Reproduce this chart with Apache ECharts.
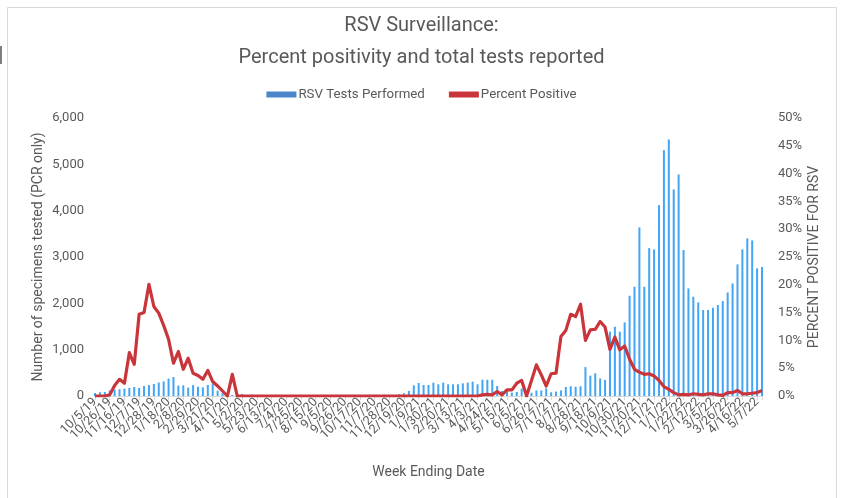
<!DOCTYPE html>
<html>
<head>
<meta charset="utf-8">
<script src="https://cdn.jsdelivr.net/npm/echarts@6/dist/echarts.min.js"></script>
<style>
html,body{margin:0;padding:0;background:#fff;}
#chart{width:843px;height:498px;}
</style>
</head>
<body>
<div id="chart"></div>
<script>
const weeks = [
 '10/5/19','10/12/19','10/19/19','10/26/19','11/2/19','11/9/19','11/16/19','11/23/19','11/30/19','12/7/19','12/14/19','12/21/19','12/28/19',
 '1/4/20','1/11/20','1/18/20','1/25/20','2/1/20','2/8/20','2/15/20','2/22/20','2/29/20','3/7/20','3/14/20','3/21/20','3/28/20','4/4/20','4/11/20','4/18/20','4/25/20','5/2/20','5/9/20','5/16/20','5/23/20','5/30/20','6/6/20','6/13/20','6/20/20','6/27/20','7/4/20','7/11/20','7/18/20','7/25/20','8/1/20','8/8/20','8/15/20','8/22/20','8/29/20','9/5/20','9/12/20','9/19/20','9/26/20','10/3/20','10/10/20','10/17/20','10/24/20','10/31/20','11/7/20','11/14/20','11/21/20','11/28/20','12/5/20','12/12/20','12/19/20','12/26/20',
 '1/2/21','1/9/21','1/16/21','1/23/21','1/30/21','2/6/21','2/13/21','2/20/21','2/27/21','3/6/21','3/13/21','3/20/21','3/27/21','4/3/21','4/10/21','4/17/21','4/24/21','5/1/21','5/8/21','5/15/21','5/22/21','5/29/21','6/5/21','6/12/21','6/19/21','6/26/21','7/3/21','7/10/21','7/17/21','7/24/21','7/31/21','8/7/21','8/14/21','8/21/21','8/28/21','9/4/21','9/11/21','9/18/21','9/25/21','10/2/21','10/9/21','10/16/21','10/23/21','10/30/21','11/6/21','11/13/21','11/20/21','11/27/21','12/4/21','12/11/21','12/18/21','12/25/21',
 '1/1/22','1/8/22','1/15/22','1/22/22','1/29/22','2/5/22','2/12/22','2/19/22','2/26/22','3/5/22','3/12/22','3/19/22','3/26/22','4/2/22','4/9/22','4/16/22','4/23/22','4/30/22','5/7/22','5/14/22'
];

const testsPerformed = [
 65,80,86,120,135,145,160,175,195,175,215,235,260,290,315,375,410,225,230,180,
 235,200,185,237,272,115,58,25,22,0,43,0,25,0,0,0,0,0,0,0,
 0,0,0,0,0,0,0,0,0,0,0,0,25,25,20,0,25,25,0,30,
 0,0,36,58,110,230,280,237,237,288,252,288,252,252,252,273,288,309,252,352,
 352,352,216,108,108,72,86,160,40,70,120,120,165,80,95,120,195,210,198,210,
 625,440,490,380,345,1388,1496,1388,1589,2164,2358,3638,2358,3192,3164,4120,5306,5536,4458,4781,
 3149,2322,2143,2020,1855,1855,1905,1963,2049,2236,2430,2840,3164,3401,3358,2754,2783
];

const percentPositive = [
 0,0,0,0.2,1.9,3.0,2.3,7.8,5.7,14.7,15.0,20.1,16.1,14.9,12.7,10.2,5.9,8.0,4.8,6.8,
 4.1,3.7,3.0,4.6,2.6,1.8,0.9,0,3.9,0,0,0,0,0,0,0,0,0,0,0,
 0,0,0,0,0,0,0,0,0,0,0,0,0,0,0,0,0,0,0,0,
 0,0,0,0,0,0,0,0,0,0,0,0,0,0,0,0,0,0,0,0.2,
 0.3,0.2,0.8,0.2,1.1,1.1,2.3,2.8,0,2.8,5.6,3.8,1.8,4.0,4.1,10.7,11.8,14.7,14.3,16.5,
 10.0,11.9,12.0,13.4,12.4,8.4,10.6,8.3,9.0,6.6,4.8,4.3,3.9,4.0,3.6,2.8,1.7,1.2,0.6,0.2,
 0.3,0.2,0.4,0.3,0.2,0.4,0.4,0.2,0.1,0.6,0.6,1.0,0.4,0.4,0.5,0.6,1.0
];

const labelEvery = 3;
const leftTicks = {min: 0, max: 6000, interval: 1000};
const rightTicks = {min: 0, max: 50, interval: 5};

const txt = '#595959';
const font = 'Roboto, "Noto Sans", sans-serif';

const chart = echarts.init(document.getElementById('chart'), null, {renderer: 'canvas'});
chart.setOption({
  animation: false,
  backgroundColor: '#ffffff',
  textStyle: {fontFamily: font, color: txt},
  graphic: [
    {type: 'rect', shape: {x: 7.5, y: 7.5, width: 829, height: 500}, style: {fill: 'none', stroke: '#d9d9d9', lineWidth: 1}, silent: true},
    {type: 'line', shape: {x1: 1, y1: 46, x2: 1, y2: 64}, style: {stroke: '#555', lineWidth: 1.5}, silent: true}
  ],
  title: [
    {
      text: 'RSV Surveillance:',
      left: 'center',
      top: 11,
      textStyle: {fontFamily: font, fontSize: 20, fontWeight: 'normal', color: txt}
    },
    {
      text: 'Percent positivity and total tests reported',
      left: 'center',
      top: 43,
      textStyle: {fontFamily: font, fontSize: 20, fontWeight: 'normal', color: txt}
    }
  ],
  legend: {
    top: 83,
    left: 'center',
    itemGap: 24,
    itemWidth: 30,
    itemHeight: 6,
    textStyle: {fontFamily: font, fontSize: 13.3, color: txt, padding: [0, 0, 0, -3]},
    data: [
      {name: 'RSV Tests Performed', icon: 'rect', itemStyle: {color: '#4a86c8'}},
      {name: 'Percent Positive', icon: 'rect', itemStyle: {color: '#c9353a'}}
    ]
  },
  grid: {left: 95, right: 81, top: 118, bottom: 102, containLabel: false},
  xAxis: {
    type: 'category',
    data: weeks,
    boundaryGap: false,
    name: 'Week Ending Date',
    nameLocation: 'middle',
    nameGap: 69,
    nameMoveOverlap: false,
    nameTextStyle: {fontFamily: font, fontSize: 14, color: txt},
    axisLine: {show: true, lineStyle: {color: '#d9d9d9', width: 1}},
    axisTick: {show: true, interval: labelEvery - 1, length: 4, lineStyle: {color: '#d9d9d9'}},
    axisLabel: {interval: 0, showMinLabel: true, showMaxLabel: false,
      formatter: (v, i) => (i % labelEvery === 0 ? v : ''),
      rotate: 45, fontSize: 12.5, color: txt, margin: 4, fontFamily: font, hideOverlap: false},
    splitLine: {show: false}
  },
  yAxis: [
    {
      type: 'value',
      min: leftTicks.min, max: leftTicks.max, interval: leftTicks.interval,
      name: 'Number of specimens tested (PCR only)',
      nameLocation: 'middle',
      nameGap: 50,
      nameRotate: 90,
      nameMoveOverlap: false,
      nameTextStyle: {fontFamily: font, fontSize: 14, color: txt},
      axisLine: {show: false},
      axisTick: {show: false},
      splitLine: {show: false},
      axisLabel: {fontSize: 13, color: txt, margin: 11, fontFamily: font,
        formatter: v => v.toLocaleString('en-US')}
    },
    {
      type: 'value',
      position: 'right',
      min: rightTicks.min, max: rightTicks.max, interval: rightTicks.interval,
      name: 'PERCENT POSITIVE FOR RSV',
      nameLocation: 'middle',
      nameGap: 45,
      nameRotate: 90,
      nameMoveOverlap: false,
      nameTextStyle: {fontFamily: font, fontSize: 14, color: txt},
      axisLine: {show: false},
      axisTick: {show: false},
      splitLine: {show: false},
      axisLabel: {fontSize: 13, color: txt, margin: 16, fontFamily: font, formatter: v => v + '%'}
    }
  ],
  series: [
    {
      name: 'RSV Tests Performed',
      type: 'bar',
      data: testsPerformed,
      yAxisIndex: 0,
      barWidth: 2,
      itemStyle: {color: '#42a5f5'},
      z: 2
    },
    {
      name: 'Percent Positive',
      type: 'line',
      data: percentPositive,
      yAxisIndex: 1,
      symbol: 'none',
      showSymbol: false,
      lineStyle: {color: '#c9353a', width: 3.2, join: 'round'},
      itemStyle: {color: '#c9353a'},
      z: 3
    }
  ]
});
</script>
</body>
</html>
